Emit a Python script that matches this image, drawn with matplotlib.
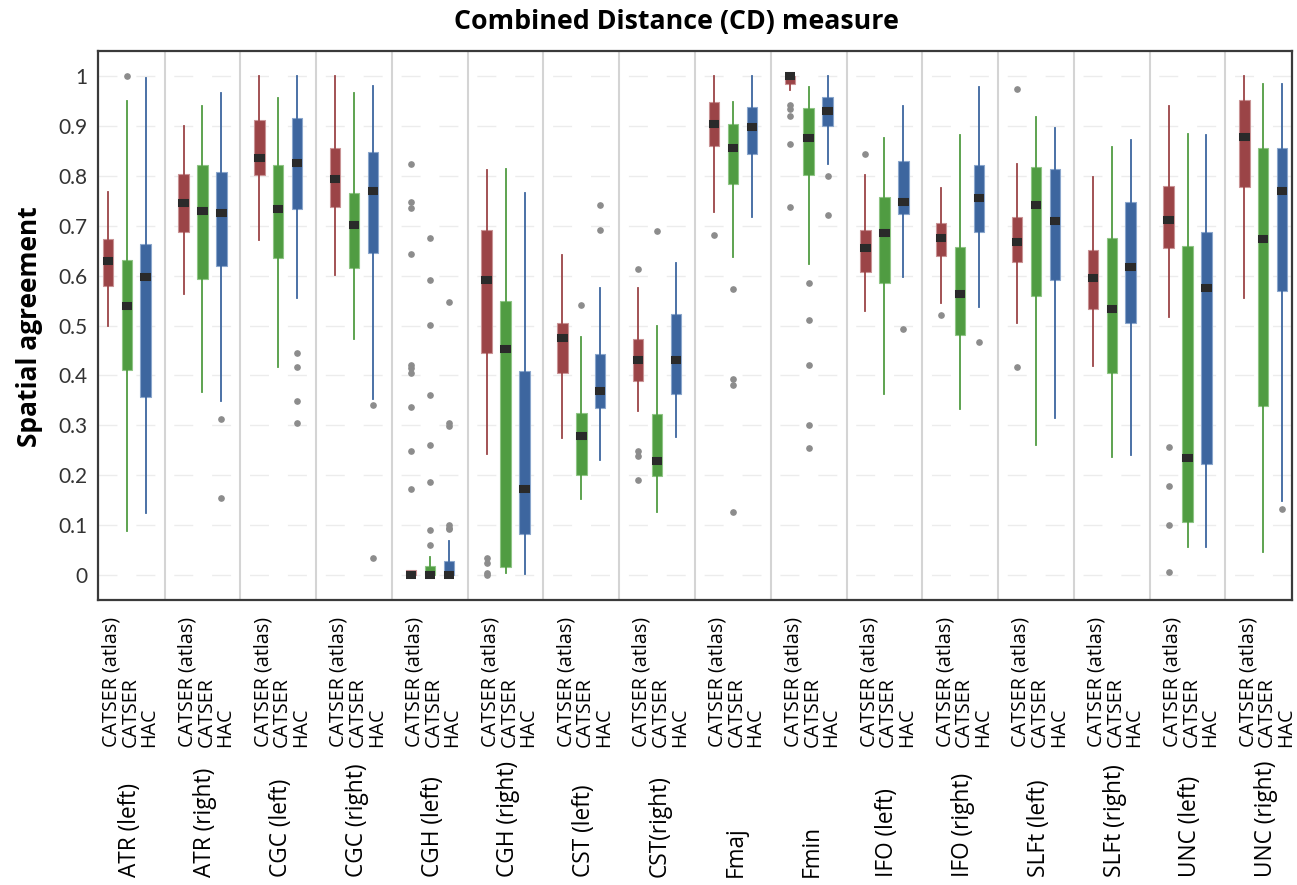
import matplotlib
matplotlib.use('Agg')
import matplotlib.pyplot as plt
import numpy as np

plt.rcParams['font.family'] = ['Open Sans', 'DejaVu Sans']

groups = ['ATR (left)', 'ATR (right)', 'CGC (left)', 'CGC (right)', 'CGH (left)', 'CGH (right)',
          'CST (left)', 'CST(right)', 'Fmaj', 'Fmin', 'IFO (left)', 'IFO (right)',
          'SLFt (left)', 'SLFt (right)', 'UNC (left)', 'UNC (right)']
methods = ['CATSER (atlas)', 'CATSER', 'HAC']
colors = ['#9b4447', '#509c42', '#3d669f']
edge_colors = ['#c99395', '#8fc585', '#8aa6cc']

# CATSER (atlas)
atlas_lo  = [0.500, 0.563, 0.671, 0.602, 0.0, 0.242, 0.275, 0.328, 0.728, 0.971, 0.530, 0.545, 0.505, 0.418, 0.518, 0.556]
atlas_q1  = [0.579, 0.687, 0.801, 0.738, 0.0, 0.444, 0.404, 0.388, 0.859, 0.984, 0.607, 0.639, 0.627, 0.534, 0.655, 0.777]
atlas_med = [0.630, 0.745, 0.835, 0.793, 0.0, 0.592, 0.474, 0.431, 0.903, 1.000, 0.655, 0.676, 0.668, 0.596, 0.711, 0.878]
atlas_q3  = [0.674, 0.803, 0.912, 0.856, 0.010, 0.691, 0.506, 0.473, 0.948, 1.000, 0.691, 0.706, 0.718, 0.652, 0.779, 0.951]
atlas_hi  = [0.768, 0.900, 1.000, 1.000, 0.010, 0.811, 0.642, 0.576, 0.999, 1.000, 0.802, 0.775, 0.823, 0.797, 0.940, 0.999]
atlas_out = [[], [], [], [],
             [0.823, 0.747, 0.735, 0.643, 0.421, 0.414, 0.405, 0.337, 0.249, 0.172],
             [0.034, 0.025, 0.004, 0.0], [], [0.614, 0.248, 0.239, 0.191],
             [0.681], [0.942, 0.933, 0.919, 0.864, 0.737], [0.844], [0.521],
             [0.974, 0.416], [], [0.256, 0.179, 0.100, 0.006], []]

# CATSER
catser_lo  = [0.089, 0.366, 0.416, 0.473, 0.0, 0.004, 0.153, 0.127, 0.638, 0.624, 0.362, 0.332, 0.261, 0.237, 0.056, 0.047]
catser_q1  = [0.410, 0.593, 0.636, 0.615, 0.0, 0.017, 0.200, 0.198, 0.784, 0.802, 0.586, 0.480, 0.559, 0.404, 0.107, 0.338]
catser_med = [0.540, 0.729, 0.734, 0.702, 0.0, 0.452, 0.279, 0.229, 0.856, 0.875, 0.686, 0.564, 0.741, 0.534, 0.235, 0.674]
catser_q3  = [0.631, 0.821, 0.821, 0.765, 0.018, 0.550, 0.324, 0.323, 0.903, 0.935, 0.758, 0.658, 0.818, 0.675, 0.660, 0.856]
catser_hi  = [0.950, 0.939, 0.955, 0.965, 0.036, 0.813, 0.476, 0.499, 0.948, 0.978, 0.875, 0.882, 0.918, 0.857, 0.884, 0.984]
catser_out = [[1.0], [], [], [],
              [0.675, 0.592, 0.501, 0.361, 0.261, 0.187, 0.091, 0.061],
              [], [0.542], [0.690],
              [0.574, 0.393, 0.380, 0.126], [0.586, 0.511, 0.421, 0.300, 0.254], [], [],
              [], [], [], []]

# HAC
hac_lo  = [0.124, 0.348, 0.555, 0.352, 0.0, 0.002, 0.231, 0.277, 0.717, 0.823, 0.597, 0.537, 0.315, 0.240, 0.056, 0.148]
hac_q1  = [0.357, 0.619, 0.734, 0.646, 0.0, 0.083, 0.335, 0.363, 0.843, 0.899, 0.723, 0.687, 0.591, 0.506, 0.223, 0.569]
hac_med = [0.598, 0.725, 0.825, 0.769, 0.0, 0.173, 0.369, 0.430, 0.897, 0.929, 0.747, 0.756, 0.710, 0.617, 0.576, 0.769]
hac_q3  = [0.664, 0.808, 0.916, 0.847, 0.028, 0.408, 0.442, 0.524, 0.938, 0.958, 0.829, 0.822, 0.813, 0.748, 0.687, 0.856]
hac_hi  = [0.995, 0.965, 1.000, 0.979, 0.069, 0.766, 0.575, 0.625, 0.999, 0.999, 0.939, 0.978, 0.896, 0.872, 0.881, 0.984]
hac_out = [[], [0.312, 0.154], [0.444, 0.416, 0.349, 0.304], [0.340, 0.035],
           [0.547, 0.304, 0.299, 0.101, 0.095, 0.092], [], [0.742, 0.691], [],
           [], [0.799, 0.722], [0.492], [0.467], [], [], [], [0.133]]

yticks = [0, 0.1, 0.2, 0.3, 0.4, 0.5, 0.6, 0.7, 0.8, 0.9, 1]
ytick_labels = ['0', '0.1', '0.2', '0.3', '0.4', '0.5', '0.6', '0.7', '0.8', '0.9', '1']

all_stats = [
    (atlas_lo, atlas_q1, atlas_med, atlas_q3, atlas_hi, atlas_out),
    (catser_lo, catser_q1, catser_med, catser_q3, catser_hi, catser_out),
    (hac_lo, hac_q1, hac_med, hac_q3, hac_hi, hac_out),
]

fig = plt.figure(figsize=(12.97, 8.85), dpi=100)
ax = fig.add_axes([98.3 / 1297, 1 - 600 / 885, (1291.7 - 98.3) / 1297, 549 / 885])

ngroup = len(groups)
for k in range(3):
    lo, q1, med, q3, hi, out = all_stats[k]
    stats = []
    for g in range(ngroup):
        stats.append({'whislo': lo[g], 'q1': q1[g], 'med': med[g], 'q3': q3[g],
                      'whishi': hi[g], 'fliers': out[g]})
    pos = [4 * g + k for g in range(ngroup)]
    ax.bxp(stats, positions=pos, widths=0.55, patch_artist=True, showcaps=False,
           boxprops=dict(facecolor=colors[k], edgecolor=edge_colors[k], linewidth=0.8),
           whiskerprops=dict(color=colors[k], linewidth=1.3),
           medianprops=dict(color='#2a2a2a', linewidth=5.8, solid_capstyle='butt'),
           flierprops=dict(marker='o', markersize=3.8, markerfacecolor='#8c8c8c',
                           markeredgecolor='#8c8c8c'),
           manage_ticks=False, zorder=3)

# group separators
for g in range(ngroup - 1):
    ax.axvline(4 * g + 3, color='#d4d4d4', linewidth=1.5, zorder=1)

# dashed horizontal grid
unit_pt = (1193.4 / 63) * 72 / 100
for y in yticks:
    ax.axhline(y, color='#ececec', linewidth=1.0, linestyle=(0, (unit_pt, unit_pt)), zorder=0)

ax.set_xlim(-0.5, 62.5)
ax.set_ylim(-0.05, 1.05)
ax.set_yticks(yticks)
ax.set_yticklabels(ytick_labels, fontsize=15, color='#333333', family=['Lato', 'DejaVu Sans'])
ax.tick_params(axis='y', length=0, pad=8)
ax.set_xticks([])
for s in ax.spines.values():
    s.set_color('#3a3a3a')
    s.set_linewidth(1.6)

trans = ax.get_xaxis_transform()
for g in range(ngroup):
    for k in range(3):
        ax.text(4 * g + k + 0.2, -0.268, methods[k], rotation=90, ha='center', va='bottom',
                fontsize=14.2, color='black', transform=trans)
    ax.text(4 * g + 1 + 0.15, -0.505, groups[g], rotation=90, ha='center', va='bottom',
            fontsize=16.3, color='black', transform=trans)

fig.text(676.7 / 1297, 1 - 22 / 885, 'Combined Distance (CD) measure', ha='center', va='center',
         fontsize=19.3, fontweight='bold')
fig.text(30 / 1297, 1 - 327 / 885, 'Spatial agreement', rotation=90, ha='center', va='center',
         fontsize=19, fontweight='bold')

plt.savefig('out.png', dpi=100)
